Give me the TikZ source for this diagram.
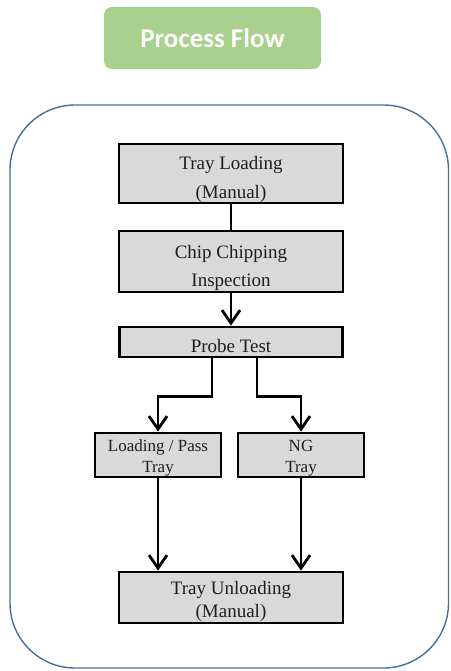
\documentclass[tikz,border=0pt]{standalone}
\usepackage{fontspec}
\setmainfont{Liberation Serif}
\newfontfamily\titlefont{Carlito}
\usetikzlibrary{arrows.meta}
\definecolor{outlineblue}{HTML}{41719C}
\definecolor{titlegreen}{HTML}{A9D18E}
\definecolor{boxgray}{HTML}{D9D9D9}
\definecolor{inkgray}{HTML}{1E1E1E}
\begin{document}
\begin{tikzpicture}[x=1pt,y=-1pt,
  stepbox/.style={draw=black, fill=boxgray, line width=2.8pt, inner sep=0pt, rectangle},
  bigtext/.style={anchor=base, inner sep=0pt, text=inkgray, font=\fontsize{19}{19}\selectfont},
  smalltext/.style={anchor=base, inner sep=0pt, text=inkgray, font=\fontsize{17}{17}\selectfont},
  conn/.style={draw=black, line width=2.8pt},
  arr/.style={conn, -{Straight Barb[length=13pt,width=18pt,line width=2.8pt]}},
  titlebox/.style={fill=titlegreen, rounded corners=8pt, inner sep=0pt, text=white,
    font=\titlefont\bfseries\fontsize{27}{27}\selectfont}
]
\useasboundingbox (0,0) rectangle (450,671);

% outer frame
\draw[outlineblue, line width=1.4pt, rounded corners=65pt] (10,105) rectangle (448.5,668);

% title
\node[titlebox, minimum width=217pt, minimum height=62pt] (title) at (212.5,38) {Process Flow};

% boxes
\node[stepbox, minimum width=224pt, minimum height=59pt] (A) at (231,173.5) {};
\node[stepbox, minimum width=224pt, minimum height=61pt] (B) at (231,261.5) {};
\node[stepbox, minimum width=223pt, minimum height=30pt] (C) at (231,342) {};
\node[stepbox, minimum width=126pt, minimum height=44pt] (D) at (158,455) {};
\node[stepbox, minimum width=126pt, minimum height=44pt] (E) at (301,455) {};
\node[stepbox, minimum width=224pt, minimum height=51pt] (F) at (231,597.5) {};

% texts
\node[bigtext] (A1) at (231,170) {Tray Loading};
\node[bigtext] (A2) at (231,198) {(Manual)};
\node[bigtext] (B1) at (231,258) {Chip Chipping};
\node[bigtext] (B2) at (231,286) {Inspection};
\node[bigtext] (C1) at (231,352) {Probe Test};
\node[smalltext] (D1) at (158,451) {Loading / Pass};
\node[smalltext] (D2) at (158,472) {Tray};
\node[smalltext] (E1) at (301,451) {NG};
\node[smalltext] (E2) at (301,472) {Tray};
\node[bigtext] (F1) at (231,594) {Tray Unloading};
\node[bigtext] (F2) at (231,617) {(Manual)};

% connectors
\draw[conn] (A.south) -- (B.north);
\draw[arr] (B.south) -- (C.north);
\coordinate (cl) at ([xshift=-19pt]C.south);
\coordinate (cr) at ([xshift=26pt]C.south);
\draw[arr] (cl) -- ++(0,38) -| (D.north);
\draw[arr] (cr) -- ++(0,38) -| (E.north);
\draw[arr] (D.south) -- (D.south |- F.north);
\draw[arr] (E.south) -- (E.south |- F.north);
\end{tikzpicture}
\end{document}
